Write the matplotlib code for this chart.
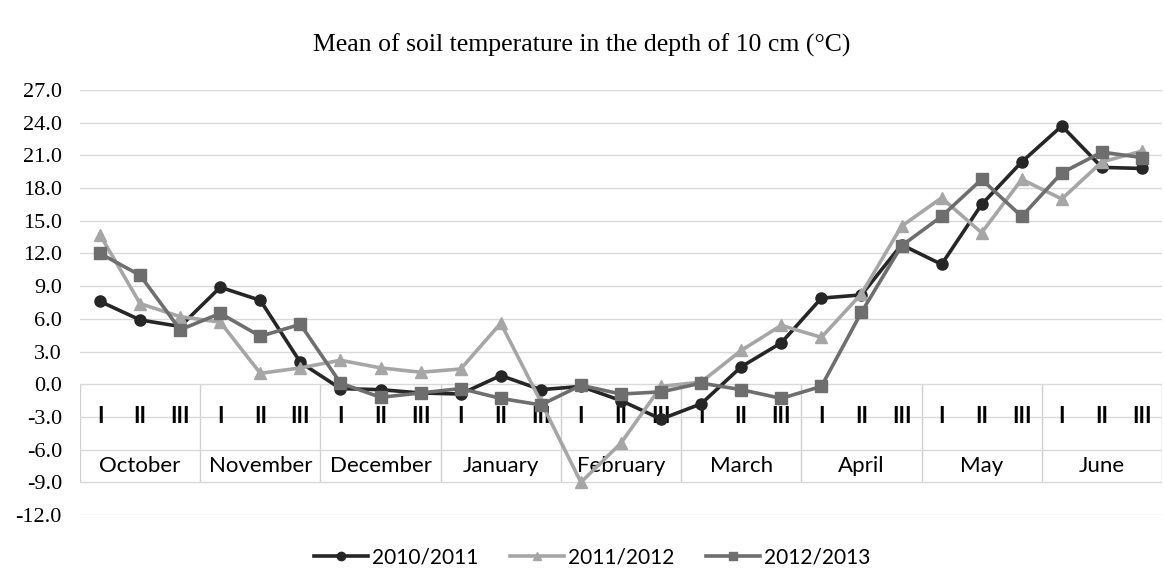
import numpy as np
import matplotlib
matplotlib.use("Agg")
import matplotlib.pyplot as plt

# soil temperature, 10 cm depth, by decade (I, II, III) of each month
months = ["October", "November", "December", "January", "February",
          "March", "April", "May", "June"]
decades = ["I", "II", "III"]

t_2010_2011 = [7.6, 5.9, 5.3, 8.9, 7.7, 2.0, -0.4, -0.5, -0.8,
               -0.9, 0.8, -0.5, -0.2, -1.5, -3.2, -1.8, 1.6, 3.8,
               7.9, 8.2, 12.8, 11.0, 16.5, 20.4, 23.7, 19.9, 19.8]
t_2011_2012 = [13.7, 7.4, 6.2, 5.7, 1.0, 1.5, 2.2, 1.5, 1.1,
               1.4, 5.6, -1.6, -9.0, -5.4, -0.2, 0.2, 3.1, 5.4,
               4.3, 8.3, 14.5, 17.1, 13.9, 18.8, 17.0, 20.4, 21.4]
t_2012_2013 = [12.0, 10.0, 5.0, 6.5, 4.4, 5.5, 0.1, -1.2, -0.8,
               -0.4, -1.3, -1.9, -0.1, -0.9, -0.7, 0.1, -0.5, -1.3,
               -0.2, 6.6, 12.7, 15.4, 18.8, 15.4, 19.4, 21.3, 20.8]

series = [
    ("2010/2011", t_2010_2011, "#262626", "o"),
    ("2011/2012", t_2011_2012, "#a6a6a6", "^"),
    ("2012/2013", t_2012_2013, "#6e6e6e", "s"),
]

serif = "Liberation Serif"
sans = "Lato"

fig = plt.figure(figsize=(11.64, 5.79), dpi=100)
ax = fig.add_axes([80 / 1164, 1 - 515 / 579, 1082 / 1164, 425 / 579])

x = np.arange(len(months) * 3)
for label, vals, color, marker in series:
    ax.plot(x, vals, color=color, lw=2.6, marker=marker, ms=8,
            label=label, zorder=3)

ax.set_xlim(-0.5, len(x) - 0.5)
ax.set_ylim(-12, 27)
yt = np.arange(-12, 28, 3)
ax.set_yticks(yt)
ax.set_yticklabels([f"{v:.1f}" for v in yt], fontfamily=serif, fontsize=16)
ax.tick_params(axis="y", length=0, pad=13)
ax.set_xticks([])
ax.grid(axis="y", color="#d9d9d9", lw=1)
for s in ax.spines.values():
    s.set_visible(False)

# category table drawn inside the plot area
ax.vlines(np.arange(0, len(x) + 1, 3) - 0.5, -9, 0, color="#d0d0d0", lw=1, zorder=1)
for i in x:
    ax.text(i, -3, decades[i % 3], ha="center", va="center",
            fontfamily=sans, fontsize=16, fontweight="bold", zorder=2)
for k, m in enumerate(months):
    ax.text(3 * k + 1, -7.5, m, ha="center", va="center",
            fontfamily=sans, fontsize=16, zorder=2)

fig.suptitle("Mean of soil temperature in the depth of 10 cm (°C)",
             y=1 - 45 / 579, fontfamily=serif, fontsize=18.5, va="center")

leg = fig.legend(loc="center", bbox_to_anchor=(592 / 1164, 1 - 557 / 579), ncol=3,
                 frameon=False, handlelength=2.6, handletextpad=0.2,
                 columnspacing=1.5, prop={"family": sans, "size": 15},
                 markerscale=0.75)

fig.savefig("out.png", dpi=100)
